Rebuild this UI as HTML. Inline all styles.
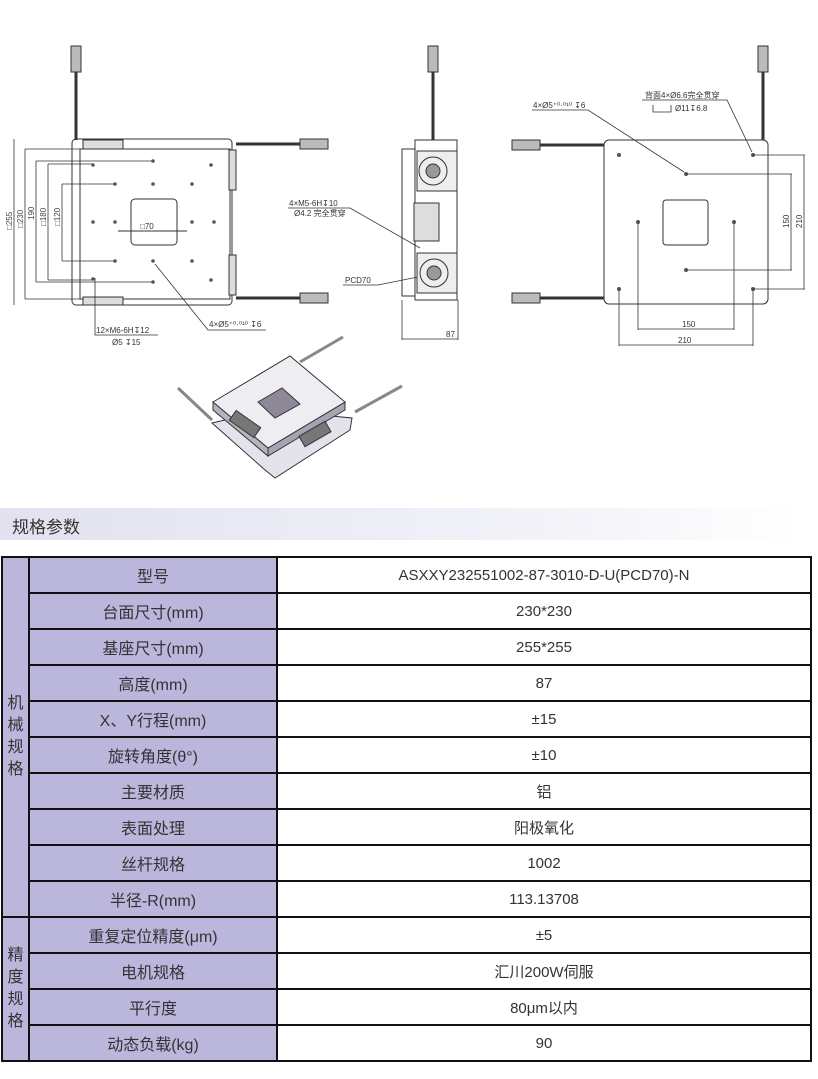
<!DOCTYPE html>
<html><head><meta charset="utf-8"><style>
body{margin:0;width:818px;height:1079px;background:#fff;position:relative;overflow:hidden;font-family:"Liberation Sans","Noto Sans CJK SC",sans-serif;}
svg{position:absolute;left:0;top:0}
.hdr{position:absolute;left:0;top:508px;width:800px;height:32px;background:linear-gradient(90deg,#e2e2f0,#f3f3f9 70%,#fff);}
.hdr span{position:absolute;left:12px;top:5px;font-size:17px;color:#333;}
table{position:absolute;left:1px;top:556px;border-collapse:collapse;width:811px;}
td{border:2px solid #111;height:34px;padding:0;text-align:center;font-size:15px;color:#333;}
td.g{width:25px;background:#bab6dc;font-size:16px;line-height:22px;}
td.l{width:246px;background:#bab6dc;font-size:16px;}
td.v{background:#fff;}
</style></head><body>
<svg width="818" height="500" viewBox="0 0 818 500" fill="none" stroke="#333" stroke-width="1">
<rect x="72" y="139" width="160" height="166" rx="4"/>
<rect x="80" y="149" width="150" height="150"/>
<rect x="83" y="140" width="40" height="9" fill="#ddd"/>
<rect x="83" y="297" width="40" height="8" fill="#ddd"/>
<rect x="229" y="150" width="7" height="40" fill="#ddd"/>
<rect x="229" y="255" width="7" height="40" fill="#ddd"/>
<line x1="76" y1="70" x2="76" y2="140" stroke-width="3"/>
<rect x="71" y="46" width="10" height="26" fill="#bbb"/>
<line x1="236" y1="144" x2="300" y2="144" stroke-width="3"/>
<rect x="300" y="139" width="28" height="10" fill="#bbb"/>
<line x1="236" y1="298" x2="300" y2="298" stroke-width="3"/>
<rect x="300" y="293" width="28" height="10" fill="#bbb"/>
<rect x="131" y="199" width="46" height="46" rx="4"/>
<line x1="118" y1="231" x2="187" y2="231"/>
<text x="140" y="229" font-size="8" fill="#333" stroke="none">□70</text>
<g stroke-width="0.8">
<line x1="14" y1="139" x2="14" y2="305"/><line x1="25" y1="149" x2="25" y2="299"/>
<line x1="36" y1="161" x2="36" y2="282"/><line x1="48" y1="164" x2="48" y2="280"/>
<line x1="62" y1="184" x2="62" y2="261"/>
<line x1="25" y1="149" x2="80" y2="149"/><line x1="25" y1="299" x2="80" y2="299"/>
<line x1="36" y1="161" x2="153" y2="161"/><line x1="36" y1="282" x2="153" y2="282"/>
<line x1="48" y1="164" x2="93" y2="164"/><line x1="48" y1="280" x2="93" y2="280"/>
<line x1="62" y1="184" x2="115" y2="184"/><line x1="62" y1="261" x2="115" y2="261"/>
</g>
<g fill="#444" stroke="none" font-size="8">
<text transform="translate(12,230) rotate(-90)">□255</text>
<text transform="translate(23,228) rotate(-90)">□230</text>
<text transform="translate(34,220) rotate(-90)">190</text>
<text transform="translate(46,226) rotate(-90)">□180</text>
<text transform="translate(60,226) rotate(-90)">□120</text>
</g>
<g fill="#555" stroke="none">
<circle cx="93" cy="165" r="1.8"/><circle cx="153" cy="161" r="1.8"/><circle cx="211" cy="165" r="1.8"/>
<circle cx="115" cy="184" r="1.8"/><circle cx="153" cy="184" r="1.8"/><circle cx="192" cy="184" r="1.8"/>
<circle cx="93" cy="222" r="1.8"/><circle cx="115" cy="222" r="1.8"/><circle cx="192" cy="222" r="1.8"/><circle cx="214" cy="222" r="1.8"/>
<circle cx="115" cy="261" r="1.8"/><circle cx="153" cy="261" r="1.8"/><circle cx="192" cy="261" r="1.8"/>
<circle cx="93" cy="279" r="1.8"/><circle cx="153" cy="282" r="1.8"/><circle cx="211" cy="280" r="1.8"/>
</g>
<polyline points="95,278 95,335 158,335" stroke-width="0.8"/>
<polyline points="155,264 208,330 266,330" stroke-width="0.8"/>
<g fill="#333" stroke="none" font-size="8">
<text x="96" y="333">12×M6-6H↧12</text><text x="112" y="345">Ø5 ↧15</text>
<text x="209" y="327">4×Ø5⁺⁰·⁰¹⁰ ↧6</text>
<text x="289" y="206">4×M5-6H↧10</text><text x="294" y="216">Ø4.2 完全贯穿</text>
<text x="345" y="283">PCD70</text>
</g>
<polyline points="288,208 350,208 420,248" stroke-width="0.8"/>
<polyline points="343,285 378,285 428,275" stroke-width="0.8"/>
<rect x="402" y="149" width="13" height="147"/>
<rect x="415" y="140" width="42" height="160"/>
<rect x="417" y="151" width="40" height="40" fill="#eee"/>
<circle cx="433" cy="171" r="14"/><circle cx="433" cy="171" r="7" fill="#999"/>
<rect x="417" y="253" width="40" height="40" fill="#eee"/>
<circle cx="434" cy="273" r="14"/><circle cx="434" cy="273" r="7" fill="#999"/>
<rect x="414" y="203" width="25" height="38" fill="#ddd"/>
<line x1="433" y1="70" x2="433" y2="140" stroke-width="3"/>
<rect x="428" y="46" width="10" height="26" fill="#bbb"/>
<line x1="402" y1="300" x2="402" y2="340" stroke-width="0.8"/><line x1="458" y1="300" x2="458" y2="340" stroke-width="0.8"/>
<line x1="402" y1="339" x2="458" y2="339" stroke-width="0.8"/>
<text x="446" y="337" font-size="8" fill="#333" stroke="none">87</text>
<rect x="604" y="140" width="164" height="164" rx="5"/>
<rect x="663" y="200" width="45" height="45" rx="3"/>
<line x1="763" y1="70" x2="763" y2="140" stroke-width="3"/>
<rect x="758" y="46" width="10" height="26" fill="#bbb"/>
<line x1="540" y1="145" x2="604" y2="145" stroke-width="3"/>
<rect x="512" y="140" width="28" height="10" fill="#bbb"/>
<line x1="540" y1="298" x2="604" y2="298" stroke-width="3"/>
<rect x="512" y="293" width="28" height="10" fill="#bbb"/>
<g fill="#555" stroke="none">
<circle cx="619" cy="155" r="2"/><circle cx="753" cy="155" r="2"/><circle cx="686" cy="174" r="2"/>
<circle cx="638" cy="222" r="2"/><circle cx="734" cy="222" r="2"/><circle cx="686" cy="270" r="2"/>
<circle cx="619" cy="289" r="2"/><circle cx="753" cy="289" r="2"/>
</g>
<g stroke-width="0.8">
<line x1="686" y1="174" x2="792" y2="174"/><line x1="686" y1="270" x2="792" y2="270"/><line x1="791" y1="174" x2="791" y2="270"/>
<line x1="753" y1="155" x2="805" y2="155"/><line x1="753" y1="289" x2="805" y2="289"/><line x1="804" y1="155" x2="804" y2="289"/>
<line x1="638" y1="222" x2="638" y2="330"/><line x1="734" y1="222" x2="734" y2="330"/><line x1="638" y1="329" x2="734" y2="329"/>
<line x1="619" y1="289" x2="619" y2="346"/><line x1="753" y1="289" x2="753" y2="346"/><line x1="619" y1="345" x2="753" y2="345"/>
<polyline points="532,110 588,110 684,172"/>
<polyline points="642,100 727,100 752,152"/>
<polyline points="653,105 653,112 671,112 671,105"/>
</g>
<g fill="#333" stroke="none" font-size="8">
<text x="682" y="327">150</text><text x="678" y="343">210</text>
<text transform="translate(789,228) rotate(-90)">150</text>
<text transform="translate(802,228) rotate(-90)">210</text>
<text x="533" y="108">4×Ø5⁺⁰·⁰¹⁰ ↧6</text>
<text x="645" y="98">背面4×Ø6.6完全贯穿</text>
<text x="675" y="111">Ø11↧6.8</text>
</g>
<polygon points="212,423 268,410 352,418 350,430 275,478 265,470" fill="#e4e2ea"/>
<polygon points="213,402 268,448 268,456 213,410" fill="#b8b2c0"/>
<polygon points="268,448 345,402 345,410 268,456" fill="#a8a2b2"/>
<polygon points="213,402 290,356 345,402 268,448" fill="#eeedf2"/>
<polygon points="258,402 282,388 300,404 275,418" fill="#8f8898"/>
<line x1="178" y1="388" x2="212" y2="420" stroke-width="3" stroke="#888"/>
<line x1="300" y1="362" x2="343" y2="337" stroke-width="3" stroke="#888"/>
<line x1="355" y1="412" x2="402" y2="386" stroke-width="3" stroke="#888"/>
<rect x="230" y="418" width="30" height="12" fill="#777" transform="rotate(35 245 424)"/>
<rect x="300" y="428" width="30" height="12" fill="#777" transform="rotate(-30 315 434)"/>
</svg>
<div class="hdr"><span>规格参数</span></div>
<table>
<tr><td class="g" rowspan="10">机<br>械<br>规<br>格</td><td class="l">型号</td><td class="v">ASXXY232551002-87-3010-D-U(PCD70)-N</td></tr>
<tr><td class="l">台面尺寸(mm)</td><td class="v">230*230</td></tr>
<tr><td class="l">基座尺寸(mm)</td><td class="v">255*255</td></tr>
<tr><td class="l">高度(mm)</td><td class="v">87</td></tr>
<tr><td class="l">X、Y行程(mm)</td><td class="v">±15</td></tr>
<tr><td class="l">旋转角度(θ°)</td><td class="v">±10</td></tr>
<tr><td class="l">主要材质</td><td class="v">铝</td></tr>
<tr><td class="l">表面处理</td><td class="v">阳极氧化</td></tr>
<tr><td class="l">丝杆规格</td><td class="v">1002</td></tr>
<tr><td class="l">半径-R(mm)</td><td class="v">113.13708</td></tr>
<tr><td class="g" rowspan="4">精<br>度<br>规<br>格</td><td class="l">重复定位精度(μm)</td><td class="v">±5</td></tr>
<tr><td class="l">电机规格</td><td class="v">汇川200W伺服</td></tr>
<tr><td class="l">平行度</td><td class="v">80μm以内</td></tr>
<tr><td class="l">动态负载(kg)</td><td class="v">90</td></tr>
</table>
</body></html>
